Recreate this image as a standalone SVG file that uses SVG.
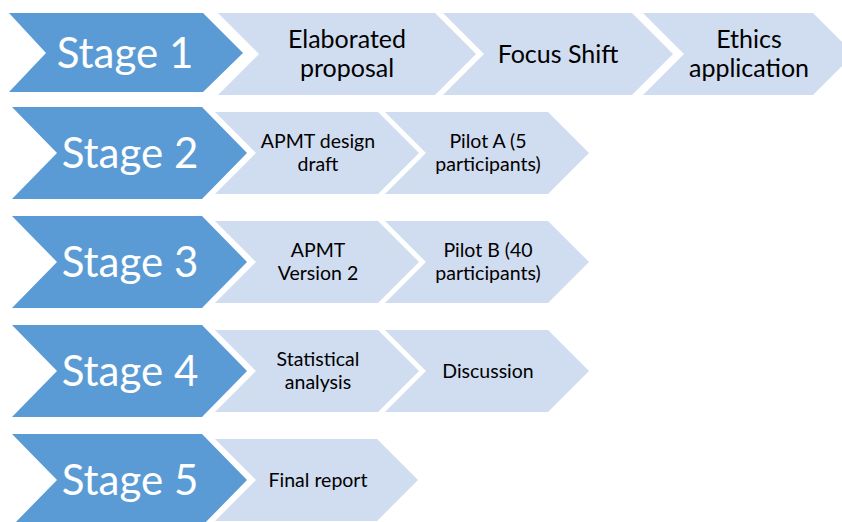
<svg xmlns="http://www.w3.org/2000/svg" width="842" height="522" viewBox="0 0 842 522">
  <style>
    .stage { fill: #5B9BD5; }
    .step { fill: #D0DCEF; }
    .stage-label { font-family: Lato, "Open Sans", "Liberation Sans", sans-serif; font-size: 42px; fill: #FFFFFF; text-anchor: middle; }
    .big-label { font-family: Lato, "Open Sans", "Liberation Sans", sans-serif; font-size: 25px; fill: #000000; text-anchor: middle; }
    .label { font-family: Lato, "Open Sans", "Liberation Sans", sans-serif; font-size: 19.5px; fill: #000000; text-anchor: middle; }
  </style>
  <rect width="842" height="522" fill="#FFFFFF"/>

  <!-- Row 1 -->
  <g id="stage1">
    <polygon class="stage" points="9,13 203,13 243,53 203,92 9,92 46,53"/>
    <text class="stage-label" x="125" y="68">Stage 1</text>
  </g>
  <g id="elaborated-proposal">
    <polygon class="step" points="218,13 435,13 476,54 435,95 218,95 259,54"/>
    <text class="big-label" x="347" y="48">Elaborated</text>
    <text class="big-label" x="347" y="77">proposal</text>
  </g>
  <g id="focus-shift">
    <polygon class="step" points="443,13 632,13 673,54 632,95 443,95 484,54"/>
    <text class="big-label" x="558" y="63">Focus Shift</text>
  </g>
  <g id="ethics-application">
    <polygon class="step" points="643,13 813,13 854,54 813,95 643,95 684,54"/>
    <text class="big-label" x="749" y="48">Ethics</text>
    <text class="big-label" x="749" y="77">application</text>
  </g>

  <!-- Row 2 -->
  <g id="stage2">
    <polygon class="stage" points="12,107 202,107 247,153 202,199 12,199 57,153"/>
    <text class="stage-label" x="130" y="168">Stage 2</text>
  </g>
  <g id="apmt-design-draft">
    <polygon class="step" points="215,112 378,112 419,153 378,194 215,194 256,153"/>
    <text class="label" x="318" y="148">APMT design</text>
    <text class="label" x="318" y="171">draft</text>
  </g>
  <g id="pilot-a">
    <polygon class="step" points="385,112 548,112 589,153 548,194 385,194 426,153"/>
    <text class="label" x="488" y="148">Pilot A (5</text>
    <text class="label" x="488" y="171">participants)</text>
  </g>

  <!-- Row 3 -->
  <g id="stage3">
    <polygon class="stage" points="12,216 202,216 247,262 202,308 12,308 57,262"/>
    <text class="stage-label" x="130" y="277">Stage 3</text>
  </g>
  <g id="apmt-version-2">
    <polygon class="step" points="215,221 378,221 419,262 378,303 215,303 256,262"/>
    <text class="label" x="318" y="257">APMT</text>
    <text class="label" x="318" y="280">Version 2</text>
  </g>
  <g id="pilot-b">
    <polygon class="step" points="385,221 548,221 589,262 548,303 385,303 426,262"/>
    <text class="label" x="488" y="257">Pilot B (40</text>
    <text class="label" x="488" y="280">participants)</text>
  </g>

  <!-- Row 4 -->
  <g id="stage4">
    <polygon class="stage" points="12,325 202,325 247,371 202,417 12,417 57,371"/>
    <text class="stage-label" x="130" y="386">Stage 4</text>
  </g>
  <g id="statistical-analysis">
    <polygon class="step" points="215,330 378,330 419,371 378,412 215,412 256,371"/>
    <text class="label" x="318" y="366">Statistical</text>
    <text class="label" x="318" y="389">analysis</text>
  </g>
  <g id="discussion">
    <polygon class="step" points="385,330 548,330 589,371 548,412 385,412 426,371"/>
    <text class="label" x="488" y="378">Discussion</text>
  </g>

  <!-- Row 5 -->
  <g id="stage5">
    <polygon class="stage" points="12,434 202,434 247,480 202,526 12,526 57,480"/>
    <text class="stage-label" x="130" y="495">Stage 5</text>
  </g>
  <g id="final-report">
    <polygon class="step" points="215,439 377,439 418,480 377,521 215,521 256,480"/>
    <text class="label" x="318" y="487">Final report</text>
  </g>
</svg>
